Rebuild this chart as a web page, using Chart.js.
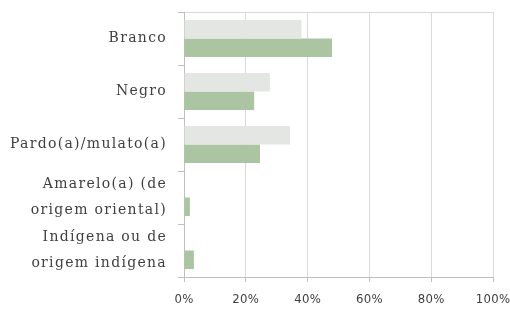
<!DOCTYPE html>
<html>
<head>
<meta charset="utf-8">
<script src="https://cdn.jsdelivr.net/npm/chart.js@4"></script>
<style>
  html, body { margin: 0; padding: 0; background: #fff; }
  #wrap { width: 510px; height: 309px; }
</style>
</head>
<body>
<div id="wrap"><canvas id="race_chart"></canvas></div>
<script>
'use strict';

const categories = [
    'Branco',
    'Negro',
    'Pardo(a)/mulato(a)',
    ['Amarelo(a) (de', 'origem oriental)'],
    ['Indígena ou de', 'origem indígena'],
];
const series_gray = [38, 27.8, 34.3, 0, 0];
const series_green = [47.9, 22.7, 24.6, 1.9, 3.2];
const x_ticks = [0, 20, 40, 60, 80, 100];

const mychart = document.getElementById('race_chart');

// category labels in the original are spaced out; x labels (ticks.z: 1) are drawn after the bars, tighter
const spacing_plugin = {
    id: 'spacing',
    beforeDraw: (chart) => { chart.ctx.letterSpacing = '1.3px'; },
    afterDatasetsDraw: (chart) => { chart.ctx.letterSpacing = '0.3px'; },
};

const data = {
    labels: categories,
    datasets: [{
        label: 'Série 1',
        data: series_gray,
        backgroundColor: '#E4E6E3',
    }, {
        label: 'Série 2',
        data: series_green,
        backgroundColor: '#ABC4A2',
    }],
};

new Chart(mychart, {
    type: 'bar',
    data: data,
    plugins: [spacing_plugin],
    options: {
        indexAxis: 'y',
        responsive: true,
        maintainAspectRatio: false,
        animation: false,
        categoryPercentage: 0.7,
        barPercentage: 1.0,
        layout: { padding: { top: 12, right: 17, bottom: 0, left: 0 } },
        plugins: {
            legend: { display: false },
            tooltip: { enabled: false },
        },
        scales: {
            x: {
                min: 0,
                max: 100,
                afterBuildTicks: (scale) => {
                    scale.ticks = x_ticks.map(v => ({ value: v }));
                },
                afterFit: (scale) => {
                    scale.height = 32;
                    scale.paddingLeft = 0;
                    scale.paddingRight = 0;
                },
                grid: {
                    color: '#D9D9D9',
                    tickColor: '#BFBFBF',
                    tickLength: 5,
                },
                border: { color: '#BFBFBF' },
                ticks: {
                    z: 1,
                    padding: 10,
                    color: '#404040',
                    font: { family: "'DejaVu Sans Condensed', 'DejaVu Sans'", size: 13 },
                    callback: (v) => v + '%',
                },
            },
            y: {
                afterFit: (scale) => {
                    scale.width = 184;
                    scale.paddingTop = 0;
                    scale.paddingBottom = 0;
                },
                grid: {
                    offset: true,
                    color: (ctx) => ctx.index === 0 ? '#D9D9D9' : 'rgba(0,0,0,0)',
                    tickColor: '#BFBFBF',
                    tickLength: 6,
                },
                border: { color: '#BFBFBF' },
                ticks: {
                    autoSkip: false,
                    padding: 11,
                    color: '#404040',
                    font: { family: 'DejaVu Serif', size: 14, lineHeight: 1.85 },
                },
            },
        },
    },
});
</script>
</body>
</html>
